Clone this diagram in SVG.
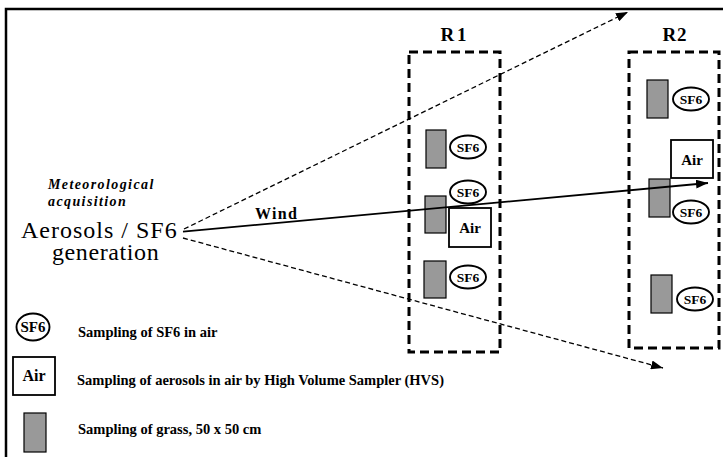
<svg xmlns="http://www.w3.org/2000/svg" width="723" height="457" viewBox="0 0 723 457">
<defs>
<marker id="ah" markerUnits="userSpaceOnUse" markerWidth="13" markerHeight="9" refX="12" refY="4.5" orient="auto">
<path d="M0,0 L12,4.5 L0,9 z" fill="#000"/>
</marker>
<style>
.t{font-family:"Liberation Serif","Times New Roman",serif;fill:#000}
.b{font-weight:bold}
.zone{fill:none;stroke:#000;stroke-width:3;stroke-dasharray:9 5}
.sf{fill:#fff;stroke:#000;stroke-width:1.9}
.grass{fill:#999;stroke:#000;stroke-width:1.2}
.air{fill:#fff;stroke:#000;stroke-width:1.8}
.sft{font-size:13.5px;font-weight:bold;text-anchor:middle}
.airt{font-size:15px;font-weight:bold;text-anchor:middle}
.leg{font-size:14.5px;font-weight:bold}
.dash{fill:none;stroke:#000;stroke-width:1.3;stroke-dasharray:5 3}
</style>
</defs>
<rect width="723" height="457" fill="#fff"/>
<g id="frame">
<path d="M6,457 L6,9 L723,9" fill="none" stroke="#000" stroke-width="2.5"/>
</g>
<g id="source">
<text class="t b" x="48" y="189" font-size="14" font-style="italic" letter-spacing="1.4">Meteorological</text>
<text class="t b" x="48" y="206" font-size="14" font-style="italic" letter-spacing="1.4">acquisition</text>
<text class="t" x="21" y="238" font-size="24" letter-spacing="1">Aerosols / SF6</text>
<text class="t" x="52" y="260" font-size="24" letter-spacing="0.6">generation</text>
</g>
<g id="R1">
<text class="t b" x="455" y="41" font-size="19" text-anchor="middle" letter-spacing="3">R1</text>
<rect class="zone" x="409" y="52" width="91" height="300"/>
<rect class="grass" x="426" y="130" width="20" height="38"/>
<ellipse class="sf" cx="468" cy="147" rx="18" ry="11.5"/>
<text class="t sft" x="468" y="152">SF6</text>
<ellipse class="sf" cx="468" cy="192" rx="18" ry="11.5"/>
<text class="t sft" x="468" y="197">SF6</text>
<rect class="grass" x="425" y="196" width="21" height="37"/>
<rect class="air" x="449" y="208" width="42" height="39"/>
<text class="t airt" x="470" y="233">Air</text>
<rect class="grass" x="424" y="261" width="22" height="37"/>
<ellipse class="sf" cx="468" cy="277" rx="18" ry="11.5"/>
<text class="t sft" x="468" y="282">SF6</text>
</g>
<g id="R2">
<text class="t b" x="675" y="41" font-size="19" text-anchor="middle" letter-spacing="1">R2</text>
<rect class="zone" x="629" y="52" width="90" height="296"/>
<rect class="grass" x="647" y="80" width="21" height="38"/>
<ellipse class="sf" cx="691" cy="99" rx="18" ry="11.5"/>
<text class="t sft" x="691" y="104">SF6</text>
<rect class="air" x="671" y="140" width="42" height="38"/>
<text class="t airt" x="692" y="165">Air</text>
<rect class="grass" x="649" y="179" width="21" height="38"/>
<ellipse class="sf" cx="691" cy="212" rx="18" ry="11.5"/>
<text class="t sft" x="691" y="217">SF6</text>
<rect class="grass" x="651" y="275" width="21" height="38"/>
<ellipse class="sf" cx="695" cy="299" rx="18" ry="11.5"/>
<text class="t sft" x="695" y="304">SF6</text>
</g>
<g id="connectors">
<line class="dash" x1="184" y1="229" x2="628" y2="12" marker-end="url(#ah)"/>
<line x1="183" y1="231.7" x2="708" y2="183" stroke="#000" stroke-width="1.8" marker-end="url(#ah)"/>
<line class="dash" x1="183" y1="238" x2="663" y2="368" marker-end="url(#ah)"/>
<text class="t b" x="255" y="219" font-size="16" letter-spacing="1.3">Wind</text>
</g>
<g id="legend-sf6">
<ellipse class="sf" cx="33" cy="327" rx="16.5" ry="13.5"/>
<text class="t" x="33" y="332" font-size="15" font-weight="bold" text-anchor="middle">SF6</text>
<text class="t leg" x="78" y="337">Sampling of SF6 in air</text>
</g>
<g id="legend-air">
<rect class="air" x="13" y="357" width="42" height="38"/>
<text class="t" x="34" y="381" font-size="16" font-weight="bold" text-anchor="middle">Air</text>
<text class="t leg" x="77" y="385">Sampling of aerosols in air by High Volume Sampler (HVS)</text>
</g>
<g id="legend-grass">
<rect class="grass" x="24" y="413" width="22" height="39"/>
<text class="t leg" x="78" y="434">Sampling of grass, 50 x 50 cm</text>
</g>
</svg>
